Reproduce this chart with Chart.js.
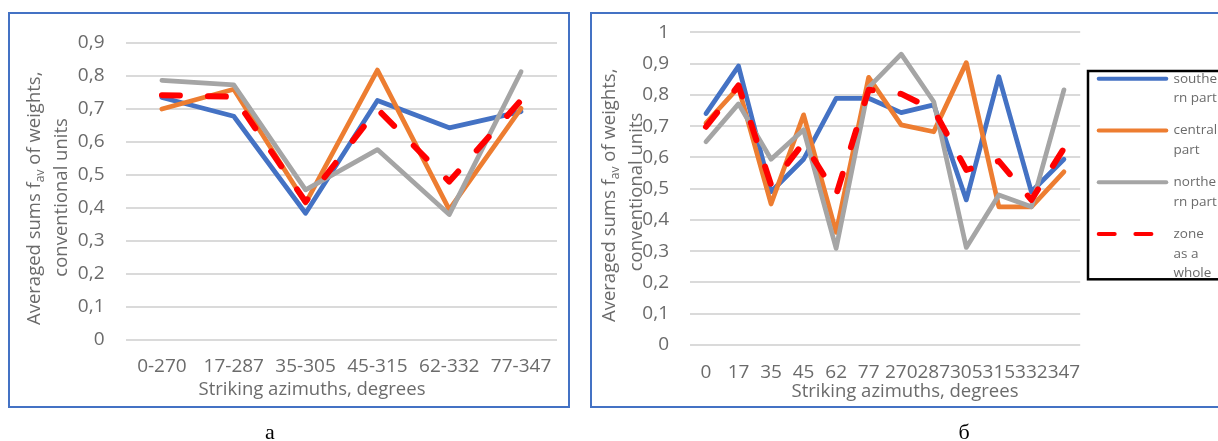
<!DOCTYPE html>
<html>
<head>
<meta charset="utf-8">
<script src="https://cdn.jsdelivr.net/npm/chart.js@4.4.1/dist/chart.umd.min.js"></script>
<style>
  html, body { margin: 0; padding: 0; background: #fff; width: 1218px; height: 441px; overflow: hidden; position: relative; }
  canvas { position: absolute; top: 0; }
  #chartA { left: 0; }
  #chartB { left: 585px; }
  .frame { position: absolute; border: 2px solid #4472c4; box-sizing: border-box; pointer-events: none; }
  .cap { position: absolute; font-family: 'Liberation Serif', 'DejaVu Serif', serif; font-size: 22px; line-height: 22px; color: #000; transform: translateX(-50%); }
</style>
</head>
<body>
<canvas id="chartA" width="585" height="441"></canvas>
<canvas id="chartB" width="633" height="441"></canvas>
<div class="frame" style="left:8px;top:12px;width:562px;height:396px"></div>
<div class="frame" style="left:590px;top:12px;width:700px;height:396px"></div>
<div class="cap" style="left:270px;top:421px">а</div>
<div class="cap" style="left:964px;top:421px">б</div>
<script>
// ---- data: panel а (paired azimuth ranges) ----
const leftCategories = ['0-270', '17-287', '35-305', '45-315', '62-332', '77-347'];
const leftSouthern = [0.735, 0.678, 0.384, 0.726, 0.643, 0.692];
const leftCentral  = [0.700, 0.760, 0.415, 0.818, 0.395, 0.702];
const leftNorthern = [0.787, 0.773, 0.455, 0.577, 0.380, 0.813];
const leftZone     = [0.742, 0.737, 0.419, 0.700, 0.480, 0.727];
const leftYTickLabels = ['0', '0,1', '0,2', '0,3', '0,4', '0,5', '0,6', '0,7', '0,8', '0,9'];

// ---- data: panel б (individual azimuths) ----
const rightCategories = ['0', '17', '35', '45', '62', '77', '270', '287', '305', '315', '332', '347'];
const rightSouthern = [0.740, 0.892, 0.490, 0.594, 0.789, 0.789, 0.743, 0.768, 0.464, 0.858, 0.490, 0.594];
const rightCentral  = [0.710, 0.824, 0.451, 0.736, 0.360, 0.856, 0.704, 0.682, 0.903, 0.442, 0.442, 0.554];
const rightNorthern = [0.650, 0.771, 0.594, 0.688, 0.309, 0.824, 0.930, 0.778, 0.312, 0.480, 0.442, 0.816];
const rightZone     = [0.698, 0.830, 0.512, 0.647, 0.480, 0.816, 0.803, 0.752, 0.560, 0.588, 0.464, 0.629];
const rightYTickLabels = ['0', '0,1', '0,2', '0,3', '0,4', '0,5', '0,6', '0,7', '0,8', '0,9', '1'];

const seriesNames = ['southern part', 'central part', 'northern part', 'zone as a whole'];
const legendLines = [['southe', 'rn part'], ['central', 'part'], ['northe', 'rn part'], ['zone', 'as a', 'whole']];

// ---- styling ----
const FONT = '"Open Sans", "Noto Sans", sans-serif';
const TEXT = '#6b6b6b';
const GRID = '#dadada';
const seriesColors = ['#4472c4', '#ed7d31', '#a5a5a5', '#ff0000'];

function makeDatasets(seriesValues) {
  return seriesValues.map((values, i) => {
    const dashed = i === 3;
    return {
      label: seriesNames[i],
      data: values,
      borderColor: seriesColors[i],
      backgroundColor: seriesColors[i],
      borderWidth: dashed ? 6 : 4.75,
      borderDash: dashed ? [18, 28] : [],
      legendDash: dashed ? [16, 20.7] : [],
      borderCapStyle: 'round',
      borderJoinStyle: 'round',
      pointRadius: 0,
      tension: 0,
      fill: false,
      order: 4 - i
    };
  });
}

// axis titles, including the subscript in f_av
const axisTitles = {
  id: 'axisTitles',
  afterDraw(chart, args, o) {
    const ctx = chart.ctx;
    ctx.save();
    ctx.fillStyle = TEXT;
    ctx.textBaseline = 'middle';
    const main = o.size + 'px ' + FONT;
    const sub = o.subSize + 'px ' + FONT;

    ctx.font = main;
    ctx.textAlign = 'center';
    ctx.fillText(o.xText, o.xPos[0], o.xPos[1]);

    // first rotated line: "Averaged sums f" + "av" + " of weights,"
    ctx.save();
    ctx.translate(o.y1Pos[0], o.y1Pos[1]);
    ctx.rotate(-Math.PI / 2);
    ctx.textAlign = 'left';
    ctx.font = main; const w1 = ctx.measureText(o.y1[0]).width;
    ctx.font = sub;  const w2 = ctx.measureText(o.y1[1]).width;
    ctx.font = main; const w3 = ctx.measureText(o.y1[2]).width;
    let x = -(w1 + w2 + w3) / 2;
    ctx.font = main; ctx.fillText(o.y1[0], x, 0); x += w1;
    ctx.font = sub;  ctx.fillText(o.y1[1], x, o.subShift); x += w2;
    ctx.font = main; ctx.fillText(o.y1[2], x, 0);
    ctx.restore();

    ctx.save();
    ctx.translate(o.y2Pos[0], o.y2Pos[1]);
    ctx.rotate(-Math.PI / 2);
    ctx.font = main;
    ctx.textAlign = 'center';
    ctx.fillText(o.y2, 0, 0);
    ctx.restore();

    ctx.restore();
  }
};

// boxed legend with wrapped names, placed beside the plot
const sideLegend = {
  id: 'sideLegend',
  afterDraw(chart, args, o) {
    if (!o || !o.show) return;
    const ctx = chart.ctx;
    ctx.save();
    ctx.strokeStyle = '#000';
    ctx.lineWidth = 2.5;
    ctx.strokeRect(o.box[0], o.box[1], o.box[2], o.box[3]);
    ctx.font = o.size + 'px ' + FONT;
    ctx.textBaseline = 'middle';
    ctx.textAlign = 'left';
    chart.data.datasets.forEach((ds, i) => {
      const y = o.firstY + i * o.step;
      ctx.beginPath();
      ctx.lineWidth = 4;
      ctx.lineCap = 'round';
      ctx.strokeStyle = ds.borderColor;
      ctx.setLineDash(ds.legendDash);
      ctx.moveTo(o.lineX[0], y);
      ctx.lineTo(o.lineX[1], y);
      ctx.stroke();
      ctx.setLineDash([]);
      ctx.fillStyle = TEXT;
      o.lines[i].forEach((t, k) => ctx.fillText(t, o.textX, y + k * o.lineGap));
    });
    ctx.restore();
  }
};

function buildChart(canvasId, cfg) {
  return new Chart(document.getElementById(canvasId), {
    type: 'line',
    data: { labels: cfg.labels, datasets: makeDatasets(cfg.series) },
    options: {
      responsive: false,
      animation: false,
      devicePixelRatio: 1,
      layout: { padding: cfg.padding },
      scales: {
        x: {
          offset: true,
          grid: { display: false, drawTicks: false },
          border: { display: false },
          ticks: {
            autoSkip: false, maxRotation: 0, minRotation: 0,
            padding: cfg.xTickPad, color: TEXT, font: { size: 19, family: FONT }
          },
          afterFit(s) { s.height = cfg.xHeight; }
        },
        y: {
          min: 0, max: cfg.yMax,
          grid: { color: GRID, lineWidth: 2, drawTicks: false },
          border: { display: false },
          ticks: {
            stepSize: 0.1, padding: cfg.yTickPad, color: TEXT, font: { size: 19, family: FONT },
            callback: (v) => cfg.yTicks[Math.round(v * 10)]
          },
          afterFit(s) { s.width = cfg.yWidth; }
        }
      },
      plugins: {
        legend: { display: false },
        tooltip: { enabled: false },
        axisTitles: cfg.titles,
        sideLegend: cfg.legend || { show: false }
      }
    },
    plugins: [axisTitles, sideLegend]
  });
}

const yTitleParts = ['Averaged sums f', 'av', ' of weights,'];

function drawAll() {
  buildChart('chartA', {
    labels: leftCategories,
    series: [leftSouthern, leftCentral, leftNorthern, leftZone],
    yMax: 0.9, yTicks: leftYTickLabels,
    padding: { left: 0, top: 43, right: 28, bottom: 0 },
    yWidth: 126, xHeight: 101, xTickPad: 15.3, yTickPad: 21.5,
    titles: {
      size: 18.5, subSize: 12, subShift: 6,
      xText: 'Striking azimuths, degrees', xPos: [312, 390],
      y1: yTitleParts, y1Pos: [34.5, 198.3],
      y2: 'conventional units', y2Pos: [62, 197.4]
    }
  });

  buildChart('chartB', {
    labels: rightCategories,
    series: [rightSouthern, rightCentral, rightNorthern, rightZone],
    yMax: 1, yTicks: rightYTickLabels,
    padding: { left: 0, top: 32.3, right: 137.8, bottom: 0 },
    yWidth: 104.7, xHeight: 96, xTickPad: 16.3, yTickPad: 20.7,
    titles: {
      size: 18.5, subSize: 12, subShift: 6,
      xText: 'Striking azimuths, degrees', xPos: [320, 391.7],
      y1: yTitleParts, y1Pos: [25, 195.3],
      y2: 'conventional units', y2Pos: [52, 192]
    },
    legend: {
      show: true,
      box: [503, 71, 300, 208.3],
      lineX: [513.7, 581.3], textX: 588.5,
      firstY: 78.7, step: 51.8, lineGap: 19.7, size: 13.5,
      lines: legendLines
    }
  });
}

if (document.fonts && document.fonts.load) {
  Promise.all([
    document.fonts.load('19px "Open Sans"'),
    document.fonts.load('22px "Liberation Serif"')
  ]).then(drawAll, drawAll);
} else {
  drawAll();
}
</script>
</body>
</html>
